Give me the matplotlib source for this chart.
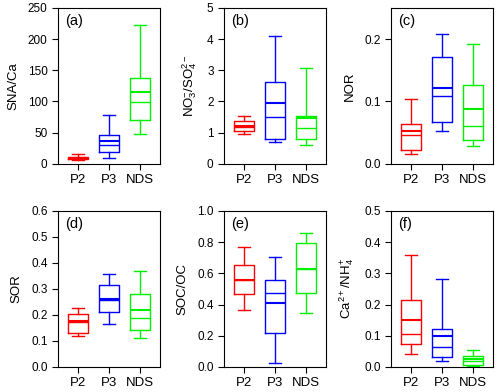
import matplotlib.pyplot as plt
import numpy as np

plt.rcParams['font.family'] = ['Liberation Sans', 'DejaVu Sans']
plt.rcParams['mathtext.fontset'] = 'custom'
plt.rcParams['mathtext.rm'] = 'Liberation Sans'
plt.rcParams['mathtext.it'] = 'Liberation Sans'

groups = ['P2', 'P3', 'NDS']
colors = ['#ff0000', '#0000ff', '#00f000']

panels = ['(a)', '(b)', '(c)', '(d)', '(e)', '(f)']
ylabels = ['SNA/Ca', 'NO$_3^{-}$/SO$_4^{2-}$', 'NOR',
           'SOR', 'SOC/OC', 'Ca$^{2+}$/NH$_4^{+}$']
ylims = [(0, 250), (0, 5), (0, 0.25), (0, 0.6), (0, 1.0), (0, 0.5)]
yticks = [[0, 50, 100, 150, 200, 250], [0, 1, 2, 3, 4, 5], [0.0, 0.1, 0.2],
          [0.0, 0.1, 0.2, 0.3, 0.4, 0.5, 0.6], [0.0, 0.2, 0.4, 0.6, 0.8, 1.0],
          [0.0, 0.1, 0.2, 0.3, 0.4, 0.5]]
ytick_fmt = ['%d', '%d', '%.1f', '%.1f', '%.1f', '%.1f']

# per panel: [P2, P3, NDS]
whislo = [[5.5, 9.1, 47.6], [0.95, 0.70, 0.60], [0.015, 0.0525, 0.0284],
          [0.119, 0.164, 0.110], [0.365, 0.026, 0.348], [0.042, 0.019, 0.003]]
q1 = [[7.0, 18.7, 70.1], [1.06, 0.79, 0.79], [0.023, 0.0665, 0.0386],
      [0.131, 0.213, 0.141], [0.466, 0.220, 0.476], [0.0726, 0.032, 0.0075]]
med = [[9.0, 36.4, 115.1], [1.21, 1.95, 1.46], [0.0525, 0.1217, 0.0885],
       [0.176, 0.262, 0.217], [0.560, 0.408, 0.630], [0.151, 0.098, 0.0267]]
mean = [[9.8, 30.5, 99.0], [1.18, 1.50, 1.16], [0.047, 0.1094, 0.0606],
        [0.173, 0.256, 0.190], [0.556, 0.474, 0.628], [0.107, 0.065, 0.020]]
q3 = [[11.0, 46.6, 137.6], [1.36, 2.63, 1.53], [0.0638, 0.1716, 0.127],
      [0.204, 0.315, 0.281], [0.654, 0.560, 0.797], [0.216, 0.122, 0.034]]
whishi = [[15.5, 77.6, 222.0], [1.52, 4.11, 3.07], [0.1035, 0.208, 0.192],
          [0.227, 0.358, 0.369], [0.771, 0.707, 0.861], [0.358, 0.282, 0.0545]]

fig = plt.figure(figsize=(5.0, 3.92), dpi=100)
lefts = [0.116, 0.448, 0.782]
bottoms = [0.582, 0.064]
w, h = 0.204, 0.398

for k in range(6):
    ax = fig.add_axes([lefts[k % 3], bottoms[k // 3], w, h])
    for i in range(3):
        st = [dict(whislo=whislo[k][i], q1=q1[k][i], med=med[k][i],
                   mean=mean[k][i], q3=q3[k][i], whishi=whishi[k][i],
                   fliers=[])]
        c = colors[i]
        ax.bxp(st, positions=[i + 1], widths=0.66, capwidths=0.38,
               showmeans=True, meanline=True,
               boxprops=dict(color=c, lw=1.0),
               whiskerprops=dict(color=c, lw=1.0),
               capprops=dict(color=c, lw=1.0),
               medianprops=dict(color=c, lw=1.5),
               meanprops=dict(color=c, lw=1.0, linestyle='-'))
    ax.set_xlim(0.35, 3.65)
    ax.set_ylim(*ylims[k])
    ax.set_yticks(yticks[k])
    ax.set_yticklabels([ytick_fmt[k] % v for v in yticks[k]])
    ax.set_xticks([1, 2, 3])
    ax.set_xticklabels(groups)
    ax.tick_params(direction='out', length=4, width=0.8, labelsize=8.5,
                   top=False, right=False)
    ax.tick_params(axis='x', labelsize=9.5)
    for sp in ax.spines.values():
        sp.set_linewidth(0.8)
    ax.set_ylabel(ylabels[k], fontsize=9.5, labelpad=6)
    ax.text(0.07, 0.96, panels[k], transform=ax.transAxes, va='top',
            ha='left', fontsize=10.5)

fig.savefig('out.png', dpi=100)
